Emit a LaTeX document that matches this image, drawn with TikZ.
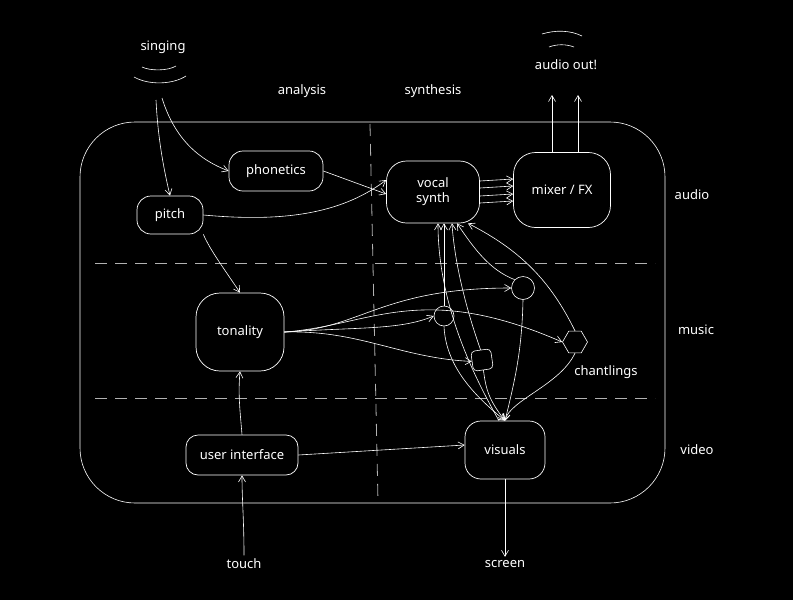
\documentclass[tikz,border=0pt]{standalone}
\usepackage{fontspec}
\setmainfont{Noto Sans}
\usetikzlibrary{arrows.meta,shapes.geometric}
\begin{document}
\begin{tikzpicture}[x=1pt,y=-1pt,
  every node/.style={text=white,font=\fontsize{13}{15}\selectfont},
  box/.style={draw=white,line width=0.7pt,rounded corners=14pt,align=center,inner sep=0pt},
  ln/.style={draw=white,line width=0.6pt},
  arr/.style={ln,-{Straight Barb[length=6pt,width=7pt]}},
  dsh/.style={draw=white!70!black,line width=0.8pt,dash pattern=on 12pt off 8pt}]
\fill[black] (0,0) rectangle (793,600);
\useasboundingbox (0,0) rectangle (793,600);
% frame
\draw[ln,rounded corners=55pt] (80,122) rectangle (665,503);
\draw[dsh] (95,263) -- (655,263);
\draw[dsh] (95,398) -- (655,398);
\draw[dsh] (370,124) -- (378,502);
% labels
\node (singing) at (163,47) {singing};
\node (analysis) at (302,91) {analysis};
\node (synthesis) at (433,91) {synthesis};
\node (aout) at (566,65) {audio out!};
\node (audio) at (692,195) {audio};
\node (music) at (696,330) {music};
\node (video) at (697,450) {video};
\node (chl) at (606,372) {chantlings};
\node (touch) at (244,564) {touch};
\node (screen) at (505,564) {screen};
% waves
\draw[ln] (142,67) .. controls (150,71) and (168,71) .. (176,66);
\draw[ln] (134,77) .. controls (148,85) and (172,85) .. (186,76);
\draw[ln] (542,34) .. controls (555,30) and (570,30) .. (582,36);
\draw[ln] (549,47) .. controls (557,44) and (566,44) .. (574,47);
% nodes
\node[box,minimum width=94pt,minimum height=40pt] (phon) at (276,171) {phonetics};
\node[box,minimum width=66pt,minimum height=38pt] (pitch) at (170,215) {pitch};
\node[box,minimum width=93pt,minimum height=62pt,rounded corners=20pt] (synth) at (433,192) {vocal\\synth};
\node[box,minimum width=97pt,minimum height=75pt,rounded corners=22pt] (mix) at (562,190) {mixer / FX};
\node[box,minimum width=88pt,minimum height=78pt,rounded corners=24pt] (ton) at (240,332) {tonality};
\node[box,minimum width=112pt,minimum height=40pt,rounded corners=12pt] (ui) at (242,455) {user interface};
\node[box,minimum width=80pt,minimum height=58pt,rounded corners=16pt] (vis) at (505,450) {visuals};
\node[ln,circle,minimum size=20pt,inner sep=0pt] (c1) at (444,316) {};
\node[ln,circle,minimum size=23pt,inner sep=0pt] (c2) at (523,288) {};
\node[ln,rounded corners=4pt,minimum size=20pt,inner sep=0pt,rotate=8] (sq) at (482,360) {};
\node[ln,regular polygon,regular polygon sides=6,minimum size=25pt,inner sep=0pt] (hx) at (575,342) {};
% connectors
\coordinate (s1) at (156,100);
\coordinate (s2) at (162,98);
\draw[arr] (s1) .. controls (158,140) and (164,170) .. (pitch.north);
\draw[arr] (s2) .. controls (175,140) and (200,160) .. (phon.west);
\draw[arr] (phon.east) -- ([yshift=-2pt]synth.west);
\draw[arr] (pitch.east) .. controls (280,222) and (340,215) .. ([yshift=12pt]synth.west);
\foreach \d in {-11,-4,4,11}
  \draw[arr] ([yshift=\d pt]synth.east) -- ([yshift=\d pt]mix.west);
\coordinate (o1) at (552,95);
\coordinate (o2) at (578,95);
\draw[arr] ([xshift=-10pt]mix.north) -- (o1);
\draw[arr] ([xshift=16pt]mix.north) -- (o2);
\draw[arr] (pitch.south east) .. controls (210,250) and (225,270) .. (ton.north);
\draw[arr] (ui.north) .. controls (240,410) and (238,395) .. (ton.south);
\draw[arr] (touch.north) .. controls (244,520) and (242,500) .. (ui.south);
\draw[arr] (ui.east) -- ([yshift=5pt]vis.west);
\draw[arr] (vis.south) -- (screen.north);
% tonality to chantlings
\draw[arr] (ton.east) .. controls (360,327) and (400,330) .. (c1.west);
\draw[arr] (ton.east) .. controls (360,330) and (380,288) .. (c2.west);
\draw[arr] (ton.east) .. controls (370,326) and (420,280) .. (hx.west);
\draw[arr] (ton.east) .. controls (360,330) and (400,358) .. (sq.west);
% chantlings to synth
\draw[arr] (c1.north) -- ([xshift=11pt]synth.south);
\draw[arr] (sq.north) .. controls (470,320) and (455,270) .. ([xshift=19pt]synth.south);
\draw[arr] (c2.north west) .. controls (490,270) and (475,250) .. ([xshift=24pt]synth.south);
\draw[arr] (hx.north) .. controls (550,280) and (520,250) .. ([xshift=35pt]synth.south);
% chantlings to visuals
\draw[arr] (c1.south) .. controls (446,370) and (480,400) .. (vis.north);
\draw[arr] (sq.south) .. controls (486,390) and (489,400) .. (vis.north);
\draw[arr] (c2.south) .. controls (522,350) and (515,380) .. (vis.north);
\draw[arr] (hx.south) .. controls (560,385) and (510,400) .. (vis.north);
\draw[arr] ([xshift=-6pt]vis.north) .. controls (470,370) and (438,300) .. ([xshift=5pt]synth.south);
\end{tikzpicture}
\end{document}
